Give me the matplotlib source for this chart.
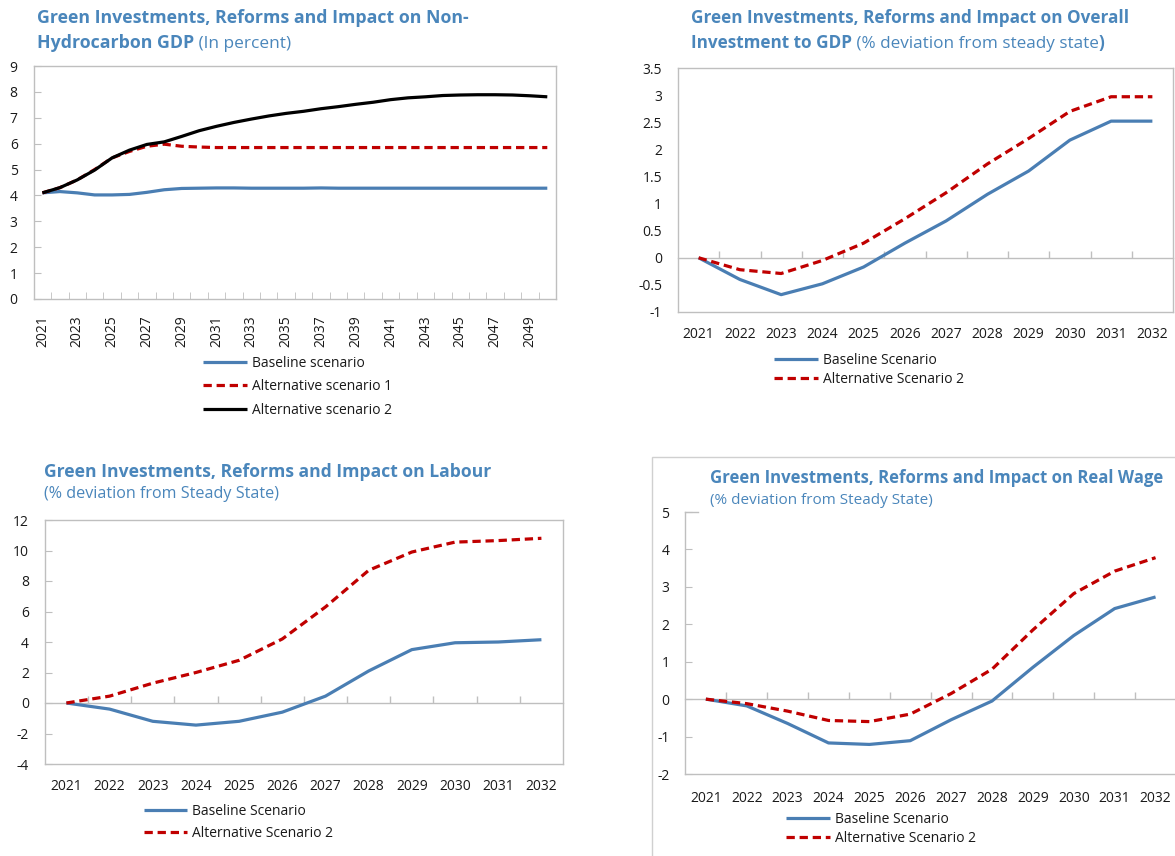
import numpy as np
import matplotlib
matplotlib.use("Agg")
import matplotlib.pyplot as plt
from matplotlib.patches import Rectangle
from matplotlib.lines import Line2D

plt.rcParams['font.family'] = ['Open Sans', 'DejaVu Sans']
plt.rcParams['axes.unicode_minus'] = False

# ---------------- data ----------------
years_long = list(range(2021, 2051))
gdp_baseline = [4.10, 4.15, 4.10, 4.02, 4.02, 4.04, 4.12, 4.22, 4.27, 4.28,
                4.29, 4.29, 4.28, 4.28, 4.28, 4.28, 4.29, 4.28, 4.28, 4.28,
                4.28, 4.28, 4.28, 4.28, 4.28, 4.28, 4.28, 4.28, 4.28, 4.28]
gdp_alt1 = [4.10, 4.30, 4.60, 5.00, 5.45, 5.70, 5.90, 5.98, 5.90, 5.87,
            5.85, 5.85, 5.85, 5.85, 5.85, 5.85, 5.85, 5.85, 5.85, 5.85,
            5.85, 5.85, 5.85, 5.85, 5.85, 5.85, 5.85, 5.85, 5.85, 5.85]
gdp_alt2 = [4.10, 4.30, 4.60, 4.98, 5.45, 5.75, 5.97, 6.07, 6.28, 6.50,
            6.67, 6.82, 6.95, 7.07, 7.17, 7.25, 7.35, 7.43, 7.52, 7.60,
            7.70, 7.77, 7.81, 7.86, 7.88, 7.89, 7.89, 7.88, 7.85, 7.81]

years_short = list(range(2021, 2033))
inv_baseline = [0.0, -0.40, -0.68, -0.48, -0.17, 0.27, 0.68, 1.17, 1.60, 2.17, 2.52, 2.52]
inv_alt2 = [0.0, -0.22, -0.29, -0.05, 0.27, 0.72, 1.20, 1.73, 2.20, 2.70, 2.97, 2.97]

lab_baseline = [0.0, -0.40, -1.20, -1.45, -1.20, -0.60, 0.45, 2.10, 3.50, 3.95, 4.00, 4.15]
lab_alt2 = [0.0, 0.45, 1.30, 2.00, 2.80, 4.20, 6.30, 8.70, 9.90, 10.55, 10.65, 10.80]

wage_baseline = [0.0, -0.18, -0.65, -1.17, -1.21, -1.11, -0.55, -0.05, 0.85, 1.70, 2.42, 2.73]
wage_alt2 = [0.0, -0.12, -0.32, -0.57, -0.60, -0.40, 0.15, 0.80, 1.85, 2.82, 3.42, 3.78]

# ---------------- style ----------------
W, H = 1175, 856
BLUE = '#4a7eb3'
RED = '#c00000'
BLACK = '#000000'
TITLE = '#4a86bb'
GRID = '#bfbfbf'
TXT = '#1a1a1a'
LW = 2.3
DASH = (2.6, 1.5)

fig = plt.figure(figsize=(W / 100, H / 100), dpi=100)


def axes_px(l, r, t, b):
    return fig.add_axes([l / W, 1 - b / H, (r - l) / W, (b - t) / H])


def style_frame(ax, sides=('left', 'right', 'top', 'bottom')):
    for s, sp in ax.spines.items():
        sp.set_color(GRID)
        sp.set_linewidth(1.0)
        sp.set_visible(s in sides)


renderer = fig.canvas.get_renderer()


def title_line(x_px, base_px, parts):
    x = x_px / W
    y = 1 - base_px / H
    for txt, wt, size in parts:
        t = fig.text(x, y, txt, fontsize=size, fontweight=wt, color=TITLE,
                     ha='left', va='baseline')
        bb = t.get_window_extent(renderer)
        x = bb.x1 / W


def zero_axis(ax, n, ymin, ymax):
    frac = (0 - ymin) / (ymax - ymin)
    sec = ax.secondary_xaxis(frac)
    sec.set_xticks(np.arange(0.5, n - 1, 1.0))
    sec.tick_params(axis='x', direction='in', length=5, color=GRID, width=1.0,
                    labelbottom=False, labeltop=False)
    for sp in sec.spines.values():
        sp.set_color(GRID)
        sp.set_linewidth(1.0)


def category_x(ax, labels, step=1, rotation=0, pad=11):
    n = len(labels)
    ax.set_xlim(-0.5, n - 0.5)
    idx = list(range(0, n, step))
    ax.set_xticks(idx)
    ax.set_xticklabels([str(labels[i]) for i in idx], rotation=rotation)
    ax.tick_params(axis='x', length=0, pad=pad, labelsize=10, labelcolor=TXT)


def legend(ax, handles_labels, x_px, top_px, spacing):
    hs = [h for h, _ in handles_labels]
    ls = [l for _, l in handles_labels]
    leg = fig.legend(hs, ls, loc='upper left',
                     bbox_to_anchor=(x_px / W, 1 - top_px / H),
                     frameon=False, fontsize=10, handlelength=3.15,
                     handletextpad=0.35, borderpad=0, borderaxespad=0,
                     labelspacing=spacing)
    for t in leg.get_texts():
        t.set_color(TXT)
    return leg


# ---------------- Panel 1 ----------------
ax1 = axes_px(33.7, 556, 66, 299)
style_frame(ax1)
x1 = np.arange(len(years_long))
l1, = ax1.plot(x1, gdp_baseline, color=BLUE, lw=LW, solid_capstyle='butt')
l2, = ax1.plot(x1, gdp_alt1, color=RED, lw=LW, dashes=DASH)
l3, = ax1.plot(x1, gdp_alt2, color=BLACK, lw=LW, solid_capstyle='butt')
ax1.set_ylim(0, 9)
ax1.set_yticks(range(0, 10))
ax1.tick_params(axis='y', direction='in', length=5, color=GRID, pad=11.5,
                labelsize=10, labelcolor=TXT)
category_x(ax1, years_long, step=2, rotation=90, pad=12)
ax1.set_xticks(np.arange(0.5, len(years_long) - 1, 1.0), minor=True)
ax1.tick_params(axis='x', which='minor', direction='in', length=5, color=GRID)
title_line(37, 23, [("Green Investments, Reforms and Impact on Non-", 'bold', 12.8)])
title_line(37, 48, [("Hydrocarbon GDP", 'bold', 12.8), (" (In percent)", 'normal', 12.4)])
legend(ax1, [(l1, 'Baseline scenario'), (l2, 'Alternative scenario 1'),
             (l3, 'Alternative scenario 2')], 203, 356, 0.6)

# ---------------- Panel 2 ----------------
ax2 = axes_px(678, 1173, 68, 312)
style_frame(ax2)
x2 = np.arange(len(years_short))
b2, = ax2.plot(x2, inv_baseline, color=BLUE, lw=LW, solid_capstyle='butt')
a2, = ax2.plot(x2, inv_alt2, color=RED, lw=LW, dashes=DASH)
ax2.set_ylim(-1, 3.5)
yt2 = np.arange(-1, 3.51, 0.5)
ax2.set_yticks(yt2)
ax2.set_yticklabels([f"{v:g}" for v in yt2])
ax2.tick_params(axis='y', length=0, pad=11.5, labelsize=10, labelcolor=TXT)
category_x(ax2, years_short, pad=11)
zero_axis(ax2, len(years_short), -1, 3.5)
title_line(691, 23, [("Green Investments, Reforms and Impact on Overall", 'bold', 12.3)])
title_line(691, 48, [("Investment to GDP", 'bold', 12.3),
                     (" (% deviation from steady state", 'normal', 12.3),
                     (")", 'bold', 12.3)])
legend(ax2, [(b2, 'Baseline Scenario'), (a2, 'Alternative Scenario 2')], 774, 353, 0.3)

# ---------------- Panel 3 ----------------
ax3 = axes_px(44.8, 563, 520, 764)
style_frame(ax3)
b3, = ax3.plot(x2, lab_baseline, color=BLUE, lw=LW, solid_capstyle='butt')
a3, = ax3.plot(x2, lab_alt2, color=RED, lw=LW, dashes=DASH)
ax3.set_ylim(-4, 12)
ax3.set_yticks(range(-4, 13, 2))
ax3.tick_params(axis='y', direction='in', length=5, color=GRID, pad=11.5,
                labelsize=10, labelcolor=TXT)
category_x(ax3, years_short, pad=11)
zero_axis(ax3, len(years_short), -4, 12)
title_line(43.6, 477, [("Green Investments, Reforms and Impact on Labour", 'bold', 12.6)])
title_line(43.6, 498, [("(% deviation from Steady State)", 'normal', 11.6)])
legend(ax3, [(b3, 'Baseline Scenario'), (a3, 'Alternative Scenario 2')], 143.5, 804, 0.5)

# ---------------- Panel 4 ----------------
fig.add_artist(Rectangle((652 / W, -0.1), 1.2, (1 - 457 / H) + 0.1,
                         transform=fig.transFigure, facecolor='none',
                         edgecolor='#d0d0d0', linewidth=1.0, zorder=0))
ax4 = axes_px(685.4, 1176, 512, 774)
style_frame(ax4, sides=('left', 'bottom'))
b4, = ax4.plot(x2, wage_baseline, color=BLUE, lw=LW, solid_capstyle='butt')
a4, = ax4.plot(x2, wage_alt2, color=RED, lw=LW, dashes=DASH)
ax4.set_ylim(-2, 5)
ax4.set_yticks(range(-2, 6))
ax4.tick_params(axis='y', direction='in', length=5, color=GRID, pad=11.5,
                labelsize=10, labelcolor=TXT)
category_x(ax4, years_short, pad=12)
zero_axis(ax4, len(years_short), -2, 5)
ax4.add_line(Line2D([0, 12.5 / 490.6], [1, 1], transform=ax4.transAxes,
                    color=GRID, lw=1.0, clip_on=False))
title_line(710, 483, [("Green Investments, Reforms and Impact on Real Wage", 'bold', 12.1)])
title_line(710, 504, [("(% deviation from Steady State)", 'normal', 11.0)])
legend(ax4, [(b4, 'Baseline Scenario'), (a4, 'Alternative Scenario 2')], 786, 812, 0.3)

fig.savefig('out.png', dpi=100)
